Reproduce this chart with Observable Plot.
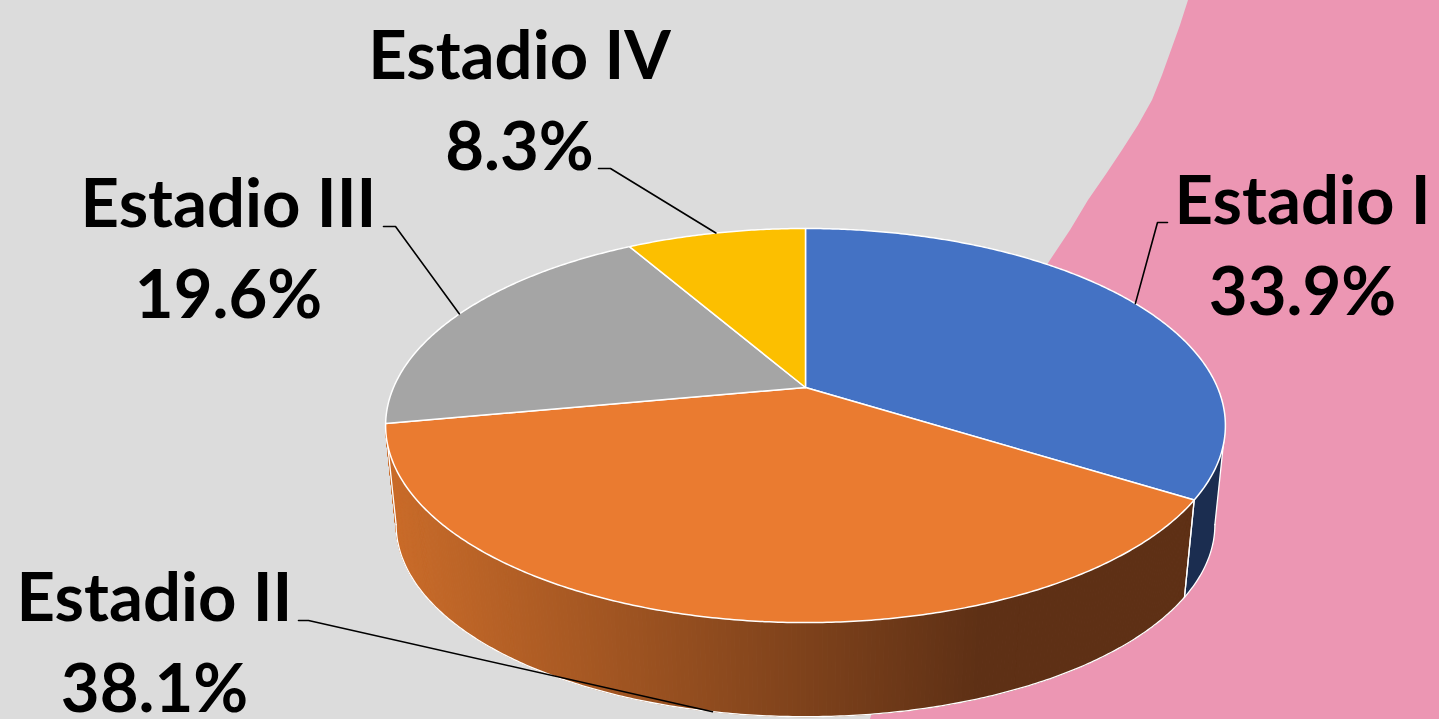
<!DOCTYPE html>
<html><head><meta charset="utf-8">
<script src="https://cdn.jsdelivr.net/npm/d3@7"></script>
<script src="https://cdn.jsdelivr.net/npm/@observablehq/plot@0.6"></script>
<style>
html,body{margin:0;padding:0;overflow:hidden;background:#dcdcdc;}
#wrap{position:relative;width:1439px;height:719px;}
#pink{position:absolute;left:0;top:0;width:1439px;height:719px;background:#ec96b3;
 clip-path:polygon(1188px 0px,1439px 0px,1439px 719px,870px 719px,930px 500px,960px 420px,1000px 340px,1050px 260px,1070px 230px,1088px 200px,1106px 174px,1122px 150px,1138px 125px,1152px 100px,1162px 75px,1171px 50px,1180px 25px);}
#chart{position:absolute;left:0;top:0;}
</style></head><body>
<div id="wrap"><div id="pink"></div><div id="chart"></div></div>
<script>
// ---- data ----
const categories = ["Estadio I", "Estadio II", "Estadio III", "Estadio IV"];
const values = [33.9, 38.1, 19.6, 8.3];
const pctLabels = ["33.9%", "38.1%", "19.6%", "8.3%"];
const colors = ["#4472c4", "#ea7b30", "#a5a5a5", "#fcbf00"];
const sideColors = ["#1b2d50", "gradient", "#636363", "#997300"];

// ---- layout (label placement) ----
const labelX = [1302, 154, 228, 519];
const labelY = [223, 620, 226, 78];
const lineGap = 91;
const elbowA = [[1167, 222], [298, 620], [383, 226], [598, 168]];
const elbowB = [[1157, 222], [308, 620], [395, 226], [610, 168]];
const anchorBottom = [false, true, false, false];

// ---- 3D pie projection ----
const G = {cx: 805, cy: 387, A: 412, B: 189.7, k: 0.193, s: 0.975, D: 100};
function proj(theta, bottom) {
  const u = Math.cos(theta), v = Math.sin(theta), w = 1 + G.k * v;
  const sc = bottom ? G.s : 1;
  return [G.cx + sc * G.A * u / w, G.cy + (bottom ? G.D : 0) - sc * G.B * v / w];
}
const total = d3.sum(values);
let cum = 0;
const slices = values.map((v, i) => {
  const t0 = Math.PI / 2 - 2 * Math.PI * cum / total;
  cum += v;
  const t1 = Math.PI / 2 - 2 * Math.PI * cum / total;
  return {i, t0, t1, mid: (t0 + t1) / 2};
});
const step = Math.PI / 360;
function arc(a, b, bottom) {
  const n = Math.max(2, Math.ceil(Math.abs(b - a) / step));
  return d3.range(n + 1).map(j => proj(a + (b - a) * j / n, bottom));
}
const thR = -Math.asin(G.k), thL = -Math.PI + Math.asin(G.k);

// top faces
const topRows = [];
slices.forEach(s => {
  const pts = [[G.cx, G.cy], ...arc(s.t0, s.t1, false), [G.cx, G.cy]];
  pts.forEach(([x, y]) => topRows.push({id: "t" + s.i, x, y, fill: colors[s.i]}));
});

// side faces
const sideRows = [];
const stripRows = [];
const edgeRows = [];
const grad = d3.scaleLinear().domain([390, 980]).range(["#c96b29", "#5e3015"]).interpolate(d3.interpolateRgb).clamp(true);
slices.forEach(s => {
  const a = Math.max(s.t1, thL), b = Math.min(s.t0, thR);
  if (a >= b) return;
  if (sideColors[s.i] === "gradient") {
    const n = Math.ceil((b - a) / step);
    for (let j = 0; j < n; j++) {
      const ta = b - (b - a) * j / n, tb = b - (b - a) * (j + 1) / n;
      const p = [proj(ta, false), proj(tb, false), proj(tb, true), proj(ta, true), proj(ta, false)];
      const mx = (p[0][0] + p[1][0]) / 2;
      const c = grad(mx);
      p.forEach(([x, y]) => stripRows.push({id: "s" + s.i + "_" + j, x, y, fill: c}));
    }
  } else {
    const pts = [...arc(b, a, false), ...arc(a, b, true)];
    pts.push(pts[0]);
    pts.forEach(([x, y]) => sideRows.push({id: "s" + s.i, x, y, fill: sideColors[s.i]}));
  }
  [a, b].forEach((t, k) => {
    const p1 = proj(t, false), p2 = proj(t, true);
    edgeRows.push({id: "e" + s.i + k, x: p1[0], y: p1[1]}, {id: "e" + s.i + k, x: p2[0], y: p2[1]});
  });
});
arc(thL, thR, true).forEach(([x, y]) => edgeRows.push({id: "bottom", x, y}));

// leader lines
const leaderRows = [];
slices.forEach(s => {
  const tgt = proj(s.mid, anchorBottom[s.i]);
  [elbowA[s.i], elbowB[s.i], tgt].forEach(([x, y]) => leaderRows.push({id: "l" + s.i, x, y}));
});

const nameRows = categories.map((c, i) => ({x: labelX[i], y: labelY[i], text: c}));
const pctRows = pctLabels.map((c, i) => ({x: labelX[i], y: labelY[i] + lineGap, text: c}));

const font = {fontSize: 67, fontWeight: "bold", fontFamily: "Lato, 'Open Sans', sans-serif", fill: "black", lineAnchor: "bottom", textAnchor: "middle"};

const chart = Plot.plot({
  width: 1439, height: 719, margin: 0,
  x: {domain: [0, 1439], range: [0, 1439], axis: null},
  y: {domain: [0, 719], range: [0, 719], axis: null},
  color: {type: "identity"},
  style: {background: "transparent", overflow: "visible"},
  marks: [
    Plot.line(stripRows, {x: "x", y: "y", z: "id", fill: "fill", stroke: "fill", strokeWidth: 1}),
    Plot.line(sideRows, {x: "x", y: "y", z: "id", fill: "fill", stroke: "none"}),
    Plot.line(edgeRows, {x: "x", y: "y", z: "id", stroke: "white", strokeWidth: 1.3}),
    Plot.line(topRows, {x: "x", y: "y", z: "id", fill: "fill", stroke: "white", strokeWidth: 1.5, strokeLinejoin: "round"}),
    Plot.line(leaderRows, {x: "x", y: "y", z: "id", stroke: "black", strokeWidth: 1.6}),
    Plot.text(nameRows, {x: "x", y: "y", text: "text", ...font}),
    Plot.text(pctRows, {x: "x", y: "y", text: "text", ...font})
  ]
});
document.getElementById("chart").appendChild(chart);
</script>
</body></html>
